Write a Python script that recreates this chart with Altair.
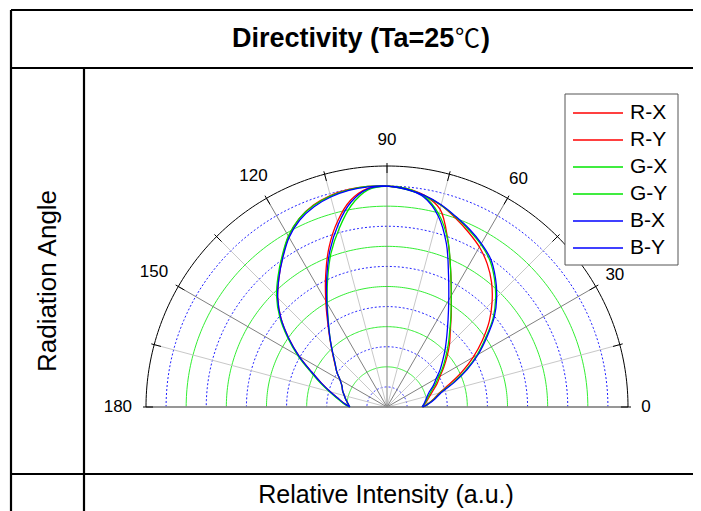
import altair as alt
import pandas as pd
import numpy as np

# ---------------- data (relative intensity, a.u.; rings every 20, outer 240) ----------------
ANGLES = list(range(0, 181, 5))
SERIES = ["R-X", "R-Y", "G-X", "G-Y", "B-X", "B-Y"]
COLORS = ["#ff0000", "#ff0000", "#00e600", "#00e600", "#0000ff", "#0000ff"]

R_X = [36, 41.5, 47.5, 54, 66, 82, 99, 116, 133, 148, 162, 174, 184, 192, 200, 208, 214, 218, 220,
       220.5, 220, 218, 214, 207, 196, 181.5, 167.5, 154, 138, 119.5, 101, 83, 69.5, 58.5, 49.5, 43, 37]
R_Y = [35, 38, 41, 44.5, 49, 55, 61, 69, 78, 88, 98, 111.5, 128, 150, 177, 204, 214, 218.5, 220,
       218.5, 209, 191, 169, 144.5, 122, 103, 88.5, 77, 68, 61, 54, 49.5, 47, 44, 41.5, 39, 37.5]
G_X = [36, 42, 48, 55, 69.5, 86.5, 103.5, 120, 138, 153, 166.5, 178.5, 187, 194, 201, 208, 213.5, 217.5, 220,
       220.5, 219.5, 217.5, 213.5, 207, 196.5, 182.5, 169, 155.5, 139.5, 121, 102.5, 84.5, 71, 59.5, 50.5, 44, 37.5]
G_Y = [35, 37.5, 40, 43, 47, 53, 59, 67.5, 76, 86, 97, 111, 128, 150, 177, 199, 213, 218.5, 220,
       217, 204, 184, 163, 140, 119, 101.5, 88, 76.5, 67.5, 61, 54, 49.5, 47, 44, 41.5, 39, 37]
B_X = [36, 42.5, 49, 56, 71, 88, 105, 121.5, 139.5, 154.5, 168, 180, 188, 195, 201.5, 208.5, 214, 217.5, 220,
       220, 219, 216.5, 212.3, 205.5, 195, 181, 167.5, 154, 138, 119.5, 101, 83, 69.5, 58.5, 49.5, 43, 37]
B_Y = [35, 37, 39, 41.5, 45, 51, 56.6, 64.5, 72.5, 82, 92.7, 106, 123, 145, 173, 197, 212, 218, 220,
       218, 207, 188, 166, 142, 120, 102, 88, 76.5, 67.5, 61, 54, 49.5, 47, 44, 41.5, 39, 37]
VALUES = [R_X, R_Y, G_X, G_Y, B_X, B_Y]

RING_R = [20, 40, 60, 80, 100, 120, 140, 160, 180, 200, 220]
OUTER_R = 240
SPOKE_ANGLES = list(range(0, 181, 15))
LABEL_ANGLES = [0, 30, 60, 90, 120, 150, 180]
LABEL_TEXT = ["0", "30", "60", "90", "120", "150", "180"]

TITLE_MAIN = "Directivity (Ta=25"
TITLE_UNIT = "\u2103"
TITLE_END = ")"
Y_LABEL = "Radiation Angle"
X_LABEL = "Relative Intensity (a.u.)"

# ---------------- layout (chart pixel space = page - 8) ----------------
W, H = 685, 503
CX, CY = 379, 399          # polar centre in chart pixels
K = 241.0 / OUTER_R        # pixels per unit
XMIN, XMAX = -CX / K, (W - CX) / K
YMIN, YMAX = -(H - CY) / K, CY / K
LABEL_R = {0: 258, 30: 262, 60: 262, 90: 266, 120: 266, 150: 268, 180: 268}
FONT = "Liberation Sans"

def ux(px):
    return (px - CX) / K

def uy(py):
    return (CY - py) / K

xs = alt.Scale(domain=[XMIN, XMAX], nice=False, zero=False)
ys = alt.Scale(domain=[YMIN, YMAX], nice=False, zero=False)
X = lambda f: alt.X(f, type="quantitative", scale=xs, axis=None)
Y = lambda f: alt.Y(f, type="quantitative", scale=ys, axis=None)

# curves
rows = []
for name, vals in zip(SERIES, VALUES):
    for a, r in zip(ANGLES, vals):
        rows.append({"series": name, "angle": a, "r": r})
curves_df = pd.DataFrame(rows)

# grid rings
ring_rows = []
for r in RING_R + [OUTER_R]:
    kind = "outer" if r == OUTER_R else ("green" if (r // 20) % 2 == 0 else "blue")
    for a in np.arange(0, 180.5, 1.0):
        ring_rows.append({"r": r, "angle": float(a), "kind": kind})
ring_df = pd.DataFrame(ring_rows)

spoke_df = pd.DataFrame({"angle": SPOKE_ANGLES})
spoke_df["dark"] = spoke_df["angle"] % 30 == 0
label_df = pd.DataFrame({"angle": LABEL_ANGLES, "label": LABEL_TEXT})
label_df["r"] = [LABEL_R[a] for a in LABEL_ANGLES]

calc_xy = dict(x="datum.r*cos(datum.angle*PI/180)", y="datum.r*sin(datum.angle*PI/180)")

green_rings = alt.Chart(ring_df).transform_filter("datum.kind=='green'").transform_calculate(**calc_xy).mark_line(
    color="#33ee33", strokeWidth=1).encode(x=X("x"), y=Y("y"), detail="r:N", order="angle:Q")
blue_rings = alt.Chart(ring_df).transform_filter("datum.kind=='blue'").transform_calculate(**calc_xy).mark_line(
    color="#2020ff", strokeWidth=1, strokeDash=[2, 2]).encode(x=X("x"), y=Y("y"), detail="r:N", order="angle:Q")
outer_arc = alt.Chart(ring_df).transform_filter("datum.kind=='outer'").transform_calculate(**calc_xy).mark_line(
    color="#000000", strokeWidth=1).encode(x=X("x"), y=Y("y"), order="angle:Q")

spoke_calc = dict(x0="0", y0="0",
                  x1=f"{OUTER_R}*cos(datum.angle*PI/180)", y1=f"{OUTER_R}*sin(datum.angle*PI/180)")
light_spokes = alt.Chart(spoke_df).transform_filter("!datum.dark").transform_calculate(**spoke_calc).mark_rule(
    color="#c8c8c8", strokeWidth=1).encode(x=X("x0"), y=Y("y0"), x2="x1:Q", y2="y1:Q")
dark_spokes = alt.Chart(spoke_df).transform_filter("datum.dark").transform_calculate(**spoke_calc).mark_rule(
    color="#808080", strokeWidth=1).encode(x=X("x0"), y=Y("y0"), x2="x1:Q", y2="y1:Q")
baseline = alt.Chart(pd.DataFrame({"a": [-OUTER_R], "b": [OUTER_R], "z": [0]})).mark_rule(
    color="#8a8a8a", strokeWidth=1.6).encode(x=X("a"), x2="b:Q", y=Y("z"))
ticks = alt.Chart(spoke_df).transform_calculate(
    x0=f"{OUTER_R - 7}*cos(datum.angle*PI/180)", y0=f"{OUTER_R - 7}*sin(datum.angle*PI/180)",
    x1=f"{OUTER_R + 3}*cos(datum.angle*PI/180)", y1=f"{OUTER_R + 3}*sin(datum.angle*PI/180)").mark_rule(
    color="#000000", strokeWidth=1).encode(x=X("x0"), y=Y("y0"), x2="x1:Q", y2="y1:Q")

curves = alt.Chart(curves_df).transform_calculate(**calc_xy).mark_line(
    strokeWidth=1.3, interpolate="catmull-rom").encode(
    x=X("x"), y=Y("y"), order="angle:Q",
    color=alt.Color("series:N", scale=alt.Scale(domain=SERIES, range=COLORS), legend=None))

labels = alt.Chart(label_df).transform_calculate(**calc_xy).mark_text(
    font=FONT, fontSize=17, color="#000000", align="center", baseline="middle").encode(
    x=X("x"), y=Y("y"), text="label:N")

# legend (drawn by hand)
LEG_X0, LEG_Y0, LEG_X1, LEG_Y1 = 557, 86, 670, 257
leg_df = pd.DataFrame({"series": SERIES})
leg_df["ly"] = [uy(105 + 27 * i) for i in range(len(SERIES))]
leg_df["lx0"] = ux(565)
leg_df["lx1"] = ux(615)
leg_df["tx"] = ux(622)
legend_box = alt.Chart(alt.Data(values=[{}])).mark_rect(fill="#ffffff", stroke="#555555", strokeWidth=1).encode(
    x=alt.value(LEG_X0), x2=alt.value(LEG_X1), y=alt.value(LEG_Y0), y2=alt.value(LEG_Y1))
legend_lines = alt.Chart(leg_df).mark_rule(strokeWidth=1.3).encode(
    x=X("lx0"), x2="lx1:Q", y=Y("ly"),
    color=alt.Color("series:N", scale=alt.Scale(domain=SERIES, range=COLORS), legend=None))
legend_text = alt.Chart(leg_df).mark_text(font=FONT, fontSize=21, align="left", baseline="middle",
                                          color="#000000").encode(x=X("tx"), y=Y("ly"), text="series:N")

# table frame & texts
def hrule(y, x0=3, x1=W):
    return alt.Chart(alt.Data(values=[{}])).mark_rule(color="#000000", strokeWidth=2.2).encode(
        x=alt.value(x0), x2=alt.value(x1), y=alt.value(y))

def vrule(x, y0, y1=H):
    return alt.Chart(alt.Data(values=[{}])).mark_rule(color="#000000", strokeWidth=2.2).encode(
        x=alt.value(x), y=alt.value(y0), y2=alt.value(y1))

frame = [hrule(2), hrule(60), hrule(466), vrule(3, 2), vrule(76, 60)]

def text_at(txt, x, y, size, weight="normal", align="center", angle=0, font=FONT):
    mk = dict(font=font, fontSize=size, fontWeight=weight, align=align, baseline="middle", color="#000000")
    if angle:
        mk["angle"] = angle
    return alt.Chart(alt.Data(values=[{}])).mark_text(**mk).encode(
        x=alt.value(x), y=alt.value(y), text=alt.value(txt))

TX0 = 224
title_parts = [
    text_at(TITLE_MAIN, TX0, 31, 27, weight="bold", align="left"),
    text_at(TITLE_UNIT, TX0 + 223, 31, 25, align="left", font="Noto Sans CJK JP"),
    text_at(TITLE_END, TX0 + 249, 31, 27, weight="bold", align="left"),
]
ylab_txt = text_at(Y_LABEL, 40, 273, 26, angle=270)
xlab_txt = text_at(X_LABEL, 378, 487, 25)

chart = alt.layer(
    green_rings, blue_rings, light_spokes, dark_spokes, baseline, outer_arc, ticks,
    curves, labels, legend_box, legend_lines, legend_text,
    *frame, *title_parts, ylab_txt, xlab_txt
).properties(
    width=W, height=H, autosize=alt.AutoSizeParams(type="none"), padding=0
).configure_view(strokeWidth=0)

chart.save("out.html", embed_options={"renderer": "svg", "actions": False})
